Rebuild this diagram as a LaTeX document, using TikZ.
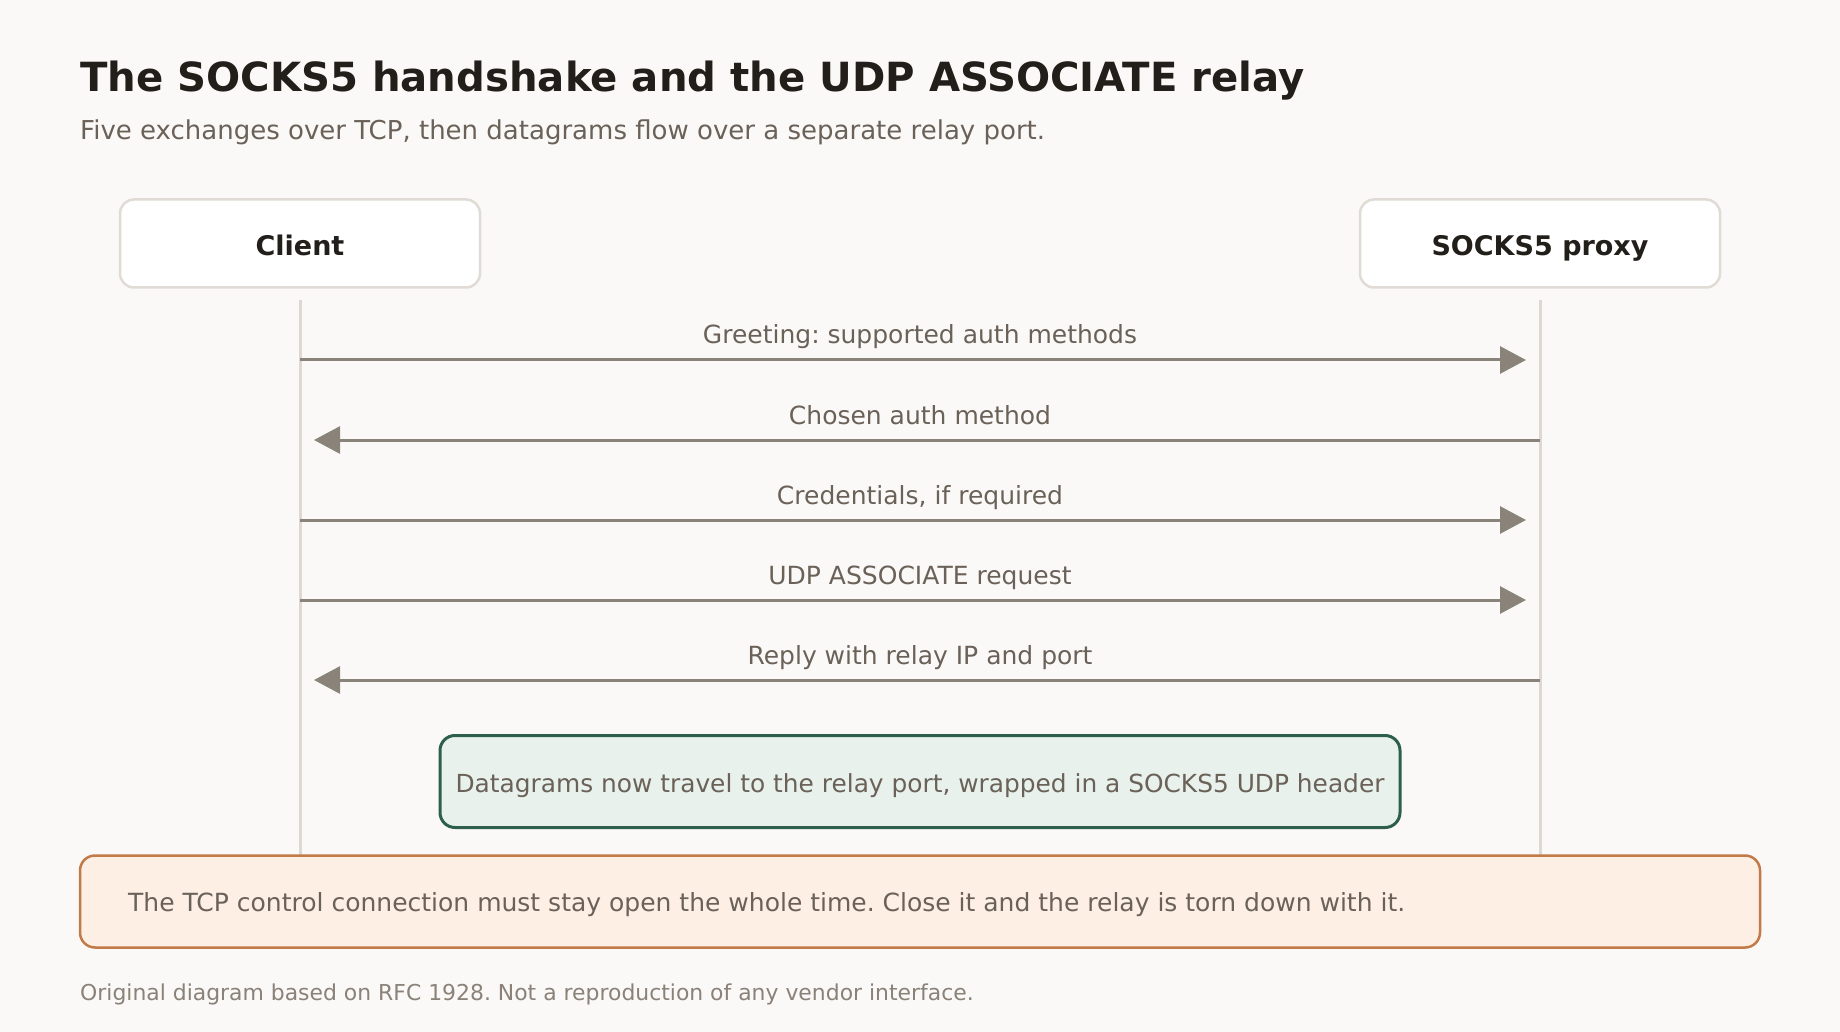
\documentclass[tikz,border=0pt]{standalone}
\usepackage{fontspec}
\setmainfont{DejaVu Sans}
\usetikzlibrary{arrows.meta}
\frenchspacing
\definecolor{bg}{HTML}{FBF9F7}
\definecolor{ink}{HTML}{221E1A}
\definecolor{muted}{HTML}{6A6158}
\definecolor{faint}{HTML}{8A8178}
\definecolor{arrowc}{HTML}{8A837A}
\definecolor{lifec}{HTML}{DDD8D2}
\definecolor{boxedge}{HTML}{E0DBD5}
\definecolor{greenfill}{HTML}{E8F1EC}
\definecolor{greenedge}{HTML}{2E5E4E}
\definecolor{orangefill}{HTML}{FDEFE4}
\definecolor{orangeedge}{HTML}{C27A48}
\tikzset{
  actor/.style={draw=boxedge, line width=2.5pt, fill=white, rounded corners=14pt,
    minimum width=360pt, minimum height=88pt, inner sep=0pt},
  actorlabel/.style={anchor=base, inner sep=0pt, font=\fontsize{27}{31}\selectfont\bfseries, text=ink},
  lifeline/.style={draw=lifec, line width=3pt},
  msg/.style={draw=arrowc, line width=3pt, -{Triangle[length=26pt,width=27pt]}},
  msglabel/.style={font=\fontsize{25}{29}\selectfont, text=muted, anchor=base, inner sep=0pt},
  note/.style={draw=greenedge, fill=greenfill, line width=3pt, rounded corners=15pt,
    minimum width=960pt, minimum height=92pt, inner sep=0pt},
  warn/.style={draw=orangeedge, fill=orangefill, line width=2.5pt, rounded corners=15pt,
    minimum width=1680pt, minimum height=92pt, inner sep=0pt},
  bodytext/.style={inner sep=0pt, font=\fontsize{25}{29}\selectfont, text=muted},
}
\begin{document}
\begin{tikzpicture}[x=1pt,y=-1pt]
\useasboundingbox (0,0) rectangle (1840,1032);
\fill[bg] (0,0) rectangle (1840,1032);
% title
\node[anchor=base west, inner sep=0pt, font=\fontsize{40.2}{46}\selectfont\bfseries, text=ink] (title) at (80,92)
  {The SOCKS5 handshake and the UDP ASSOCIATE relay};
\node[anchor=base west, inner sep=0pt, font=\fontsize{26}{30}\selectfont, text=muted] (subtitle) at (80,140)
  {Five exchanges over TCP, then datagrams flow over a separate relay port.};
% actors
\node[actor] (client) at (300,243.5) {};
\node[actor] (proxy) at (1540,243.5) {};
\node[actorlabel] (clientlabel) at (300,256) {Client};
\node[actorlabel] (proxylabel) at (1540,256) {SOCKS5 proxy};
% lifelines
\coordinate (ctop) at (300,300);
\coordinate (cbot) at (300,856);
\coordinate (ptop) at (1540,300);
\coordinate (pbot) at (1540,856);
\draw[lifeline] (ctop) -- (cbot);
\draw[lifeline] (ptop) -- (pbot);
% messages
\foreach \i/\yy in {1/360,2/440,3/520,4/600,5/680}{
  \coordinate (c\i) at (300,\yy);
  \coordinate (p\i) at (1540,\yy);
  \coordinate (ci\i) at (314,\yy);
  \coordinate (pi\i) at (1526,\yy);
}
\draw[msg] (c1) -- (pi1);
\draw[msg] (p2) -- (ci2);
\draw[msg] (c3) -- (pi3);
\draw[msg] (c4) -- (pi4);
\draw[msg] (p5) -- (ci5);
\node[msglabel] (l1) at (920,344) {Greeting: supported auth methods};
\node[msglabel] (l2) at (920,424) {Chosen auth method};
\node[msglabel] (l3) at (920,504) {Credentials, if required};
\node[msglabel] (l4) at (920,584) {UDP ASSOCIATE request};
\node[msglabel] (l5) at (920,664) {Reply with relay IP and port};
% notes
\node[note] (relay) at (920,781.5) {};
\node[bodytext, anchor=base, font=\fontsize{24.85}{29}\selectfont] (relaytext) at (920,792)
  {Datagrams now travel to the relay port, wrapped in a SOCKS5 UDP header};
\node[warn] (tcp) at (920,901.5) {};
\node[bodytext, anchor=base west] (tcptext) at (128,911.5)
  {The TCP control connection must stay open the whole time. Close it and the relay is torn down with it.};
% footer
\node[anchor=base west, inner sep=0pt, font=\fontsize{21.9}{26}\selectfont, text=faint] (footer) at (80,1000)
  {Original diagram based on RFC 1928. Not a reproduction of any vendor interface.};
\end{tikzpicture}
\end{document}
